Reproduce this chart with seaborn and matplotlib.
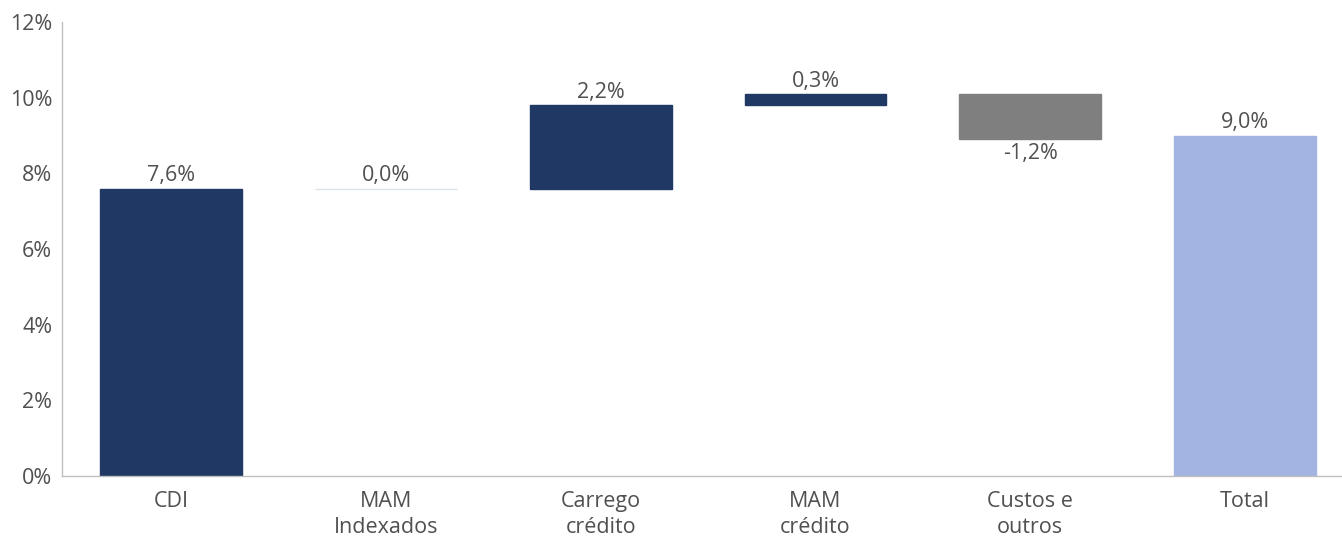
import numpy as np
import pandas as pd
import matplotlib
matplotlib.use("Agg")
import matplotlib.pyplot as plt
import seaborn as sns

# data
categories = ["CDI", "MAM\nIndexados", "Carrego\ncrédito", "MAM\ncrédito", "Custos e\noutros", "Total"]
deltas = [7.6, 0.0, 2.2, 0.3, -1.2, 9.0]
labels = ["7,6%", "0,0%", "2,2%", "0,3%", "-1,2%", "9,0%"]
bar_colors = ["#203864", "#dce3ea", "#203864", "#203864", "#7f7f7f", "#a3b3e2"]
yticks = [0, 2, 4, 6, 8, 10, 12]

# waterfall bases
bases = []
running = 0.0
for i, d in enumerate(deltas):
    if i == len(deltas) - 1:
        bases.append(0.0)
    else:
        bases.append(running)
        running += d
bottoms = [b + min(d, 0) for b, d in zip(bases, deltas)]
heights = [abs(d) for d in deltas]

df = pd.DataFrame({"cat": categories, "h": heights, "bottom": bottoms})

sns.set_style("white")
plt.rcParams["font.family"] = ["Open Sans", "DejaVu Sans"]
text_color = "#505050"
fs = 15.5

fig = plt.figure(figsize=(13.42, 5.37), dpi=100)
ax = fig.add_axes([0.0462, 0.1136, 0.96, 0.845])

sns.barplot(data=df, x="cat", y="h", color=bar_colors[0], saturation=1,
            bottom=df["bottom"].tolist(), width=0.66, ax=ax, linewidth=1)

# colour each bar
for patch, c in zip(ax.patches, bar_colors):
    patch.set_facecolor(c)
    patch.set_edgecolor(c)

# labels
for i, (b, d, lab) in enumerate(zip(bases, deltas, labels)):
    if d >= 0:
        ax.text(i, b + d + 0.06, lab, ha="center", va="bottom", fontsize=fs, color=text_color)
    else:
        ax.text(i, b + d - 0.1, lab, ha="center", va="top", fontsize=fs, color=text_color)

ax.set_ylim(0, 12)
ax.set_xlim(-0.508, 5.49)
ax.set_yticks(yticks)
ax.set_yticklabels([f"{t}%" for t in yticks])
ax.set_xlabel("")
ax.set_ylabel("")
ax.tick_params(axis="both", length=0, labelsize=fs, colors=text_color)
ax.tick_params(axis="x", pad=11)
ax.tick_params(axis="y", pad=7)
for lab in ax.get_xticklabels():
    lab.set_linespacing(1.3)
for s in ["top", "right"]:
    ax.spines[s].set_visible(False)
for s in ["left", "bottom"]:
    ax.spines[s].set_color("#bfbfbf")
    ax.spines[s].set_linewidth(1)

fig.savefig("out.png", dpi=100)
